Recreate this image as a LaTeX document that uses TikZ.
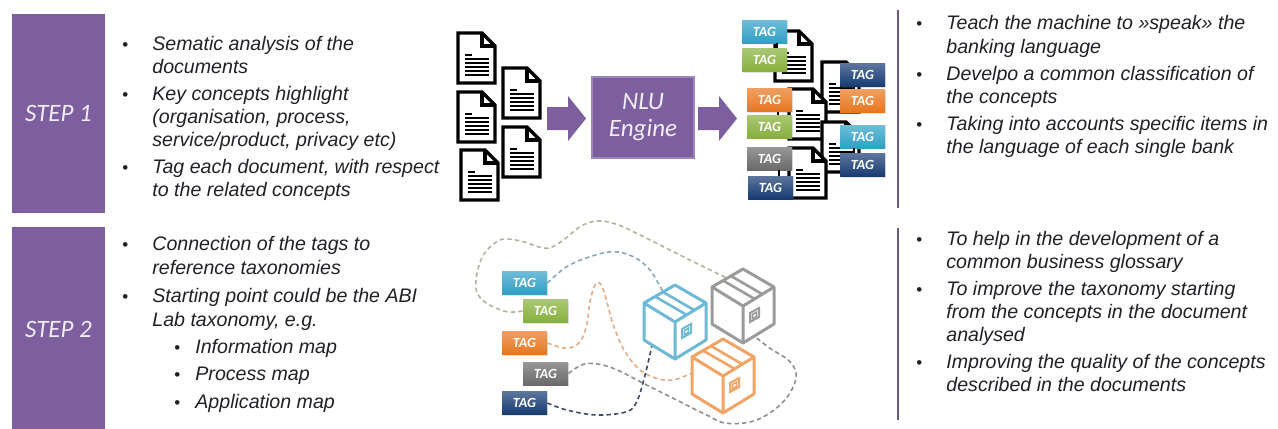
\documentclass[tikz,border=0pt]{standalone}
\usepackage{fontspec}
\setmainfont{Liberation Sans}
\newfontfamily\calib{Carlito}
\usetikzlibrary{shadows,calc}

\definecolor{stepviolet}{HTML}{7D5FA0}
\definecolor{steptext}{HTML}{F2EEF7}
\definecolor{rulecol}{HTML}{6A5A7E}
\definecolor{txtcol}{HTML}{202026}
\definecolor{tagcyan}{HTML}{30A0C6}
\definecolor{taggreen}{HTML}{86B03A}
\definecolor{tagorange}{HTML}{E8761E}
\definecolor{taggray}{HTML}{6A6A6A}
\definecolor{tagnavy}{HTML}{173A73}
\definecolor{boxcyan}{HTML}{6DB9D6}
\definecolor{boxgray}{HTML}{9B9B9B}
\definecolor{boxorange}{HTML}{F2A465}
\definecolor{dkhaki}{HTML}{B8B29A}
\definecolor{dsteel}{HTML}{86A9BA}
\definecolor{dorange}{HTML}{E6AB80}
\definecolor{dgray}{HTML}{8E8E8E}
\definecolor{dnavy}{HTML}{3E4A66}

\newcommand\itemline[4]{\node[txt] (#1) at (#2,#3) {#4};}
\newcommand\bulletat[3]{\node[bul] (#1) at (#2,#3) {\textbullet};}

\tikzset{
  txt/.style={font=\fontsize{9.8}{11.5}\selectfont\itshape, text=txtcol, inner sep=0pt, anchor=base west},
  bul/.style={font=\fontsize{8.5}{11.5}\selectfont\upshape, text=txtcol, inner sep=0pt, anchor=base west},
  stepbox/.style={fill=stepviolet, draw=white, line width=1pt, minimum width=47.5pt,
    drop shadow={opacity=0.18, shadow xshift=0.6pt, shadow yshift=-0.6pt},
    font=\calib\itshape\fontsize{12.5}{14}\selectfont, text=steptext},
  engine/.style={fill=stepviolet, draw=stepviolet!75!white, line width=0.6pt,
    minimum width=51pt, minimum height=40.5pt, align=center,
    font=\calib\itshape\fontsize{12.5}{13.5}\selectfont, text=steptext},
  tag/.style={top color=#1!70!white, bottom color=#1, draw=none,
    minimum width=22.5pt, minimum height=11.5pt, inner sep=0pt,
    drop shadow={opacity=0.22, shadow xshift=0.7pt, shadow yshift=-0.7pt},
    font=\calib\bfseries\itshape\fontsize{7}{7.5}\selectfont, text=white},
  pairlink/.style={black, line width=1.1pt},
  rulebar/.style={rulecol, line width=1pt},
  blockarrow/.style={fill=stepviolet, draw=none},
  trail/.style={dashed, dash pattern=on 2.2pt off 1.6pt, line width=0.8pt},
  pics/docicon/.style={code={
    \draw[line width=1.6pt, fill=white, line join=miter]
      (0,0) -- (24,0) -- (37,13) -- (37,50) -- (0,50) -- cycle;
    \draw[line width=1.6pt, line join=miter] (24,0) -- (24,13) -- (37,13);
    \draw[line width=1.1pt] (7,22) -- (14,22);
    \foreach \yy in {26,30,34,38,42} \draw[line width=1.1pt] (7,\yy) -- (31,\yy);
  }},
  pics/cube/.style={code={
    \draw[#1, line width=1.5pt, line join=round, fill=white]
      (0,0) -- (31,18) -- (31,55) -- (0,74) -- (-31,55) -- (-31,18) -- cycle;
    \draw[#1, line width=1.5pt, line join=round] (-31,18) -- (0,37) -- (31,18) (0,37) -- (0,74);
    \draw[#1, line width=1.3pt] (-12,7) -- (19,25) (-20,11.5) -- (11,29.5);
    \draw[#1, line width=1pt] (7,44) -- (16,39) -- (16,48) -- (7,53) -- cycle;
    \draw[#1, line width=0.8pt] (9.5,45.5) -- (13.5,43.2) -- (13.5,47.5) -- (9.5,49.8) -- cycle;
  }}
}

\begin{document}
\begin{tikzpicture}[x=0.5pt, y=-0.5pt]
\useasboundingbox (0,0) rectangle (1278,428);

% ---------- step labels ----------
\node[stepbox, minimum height=100.5pt] (step1) at (58.5,113.5) {STEP 1};
\node[stepbox, minimum height=103pt] (step2) at (58.5,329) {STEP 2};

% ---------- step 1, left column ----------
\bulletat{b1a}{122}{50}
\itemline{l1a}{152}{50}{Sematic analysis of the}
\itemline{l1b}{152}{73}{documents}
\bulletat{b1b}{122}{100}
\itemline{l1c}{152}{100}{Key concepts highlight}
\itemline{l1d}{152}{123}{(organisation, process,}
\itemline{l1e}{152}{146}{service/product, privacy etc)}
\bulletat{b1c}{122}{173}
\itemline{l1f}{152}{173}{Tag each document, with respect}
\itemline{l1g}{152}{196}{to the related concepts}

% ---------- step 1, right column ----------
\draw[rulebar] (898,10) -- (898,208);
\bulletat{r1a}{916}{29}
\itemline{m1a}{946}{29}{Teach the machine to »speak» the}
\itemline{m1b}{946}{53}{banking language}
\bulletat{r1b}{916}{80}
\itemline{m1c}{946}{80}{Develpo a common classification of}
\itemline{m1d}{946}{103}{the concepts}
\bulletat{r1c}{916}{130}
\itemline{m1e}{946}{130}{Taking into accounts specific items in}
\itemline{m1f}{946}{153}{the language of each single bank}

% ---------- step 2, left column ----------
\bulletat{b2a}{122}{250}
\itemline{l2a}{152}{250}{Connection of the tags to}
\itemline{l2b}{152}{274}{reference taxonomies}
\bulletat{b2b}{122}{302}
\itemline{l2c}{152}{302}{Starting point could be the ABI}
\itemline{l2d}{152}{326}{Lab taxonomy, e.g.}
\bulletat{b2c}{174}{353}
\itemline{l2e}{195}{353}{Information map}
\bulletat{b2d}{174}{380}
\itemline{l2f}{195}{380}{Process map}
\bulletat{b2e}{174}{408}
\itemline{l2g}{195}{408}{Application map}

% ---------- step 2, right column ----------
\draw[rulebar] (898,228) -- (898,420);
\bulletat{r2a}{916}{245}
\itemline{m2a}{946}{245}{To help in the development of a}
\itemline{m2b}{946}{268}{common business glossary}
\bulletat{r2b}{916}{295}
\itemline{m2c}{946}{295}{To improve the taxonomy starting}
\itemline{m2d}{946}{318}{from the concepts in the document}
\itemline{m2e}{946}{341}{analysed}
\bulletat{r2c}{916}{368}
\itemline{m2f}{946}{368}{Improving the quality of the concepts}
\itemline{m2g}{946}{391}{described in the documents}

% ---------- raw documents ----------
\pic at (458,33) {docicon};
\pic at (503,68) {docicon};
\pic at (458,92) {docicon};
\pic at (503,127) {docicon};
\pic at (461,150) {docicon};

% ---------- engine and arrows ----------
\node[engine] (nlu) at (643,117.5) {NLU\\Engine};
\fill[blockarrow] (547,107) -- (568,107) -- (568,96) -- (586,118.5) -- (568,141) -- (568,130) -- (547,130) -- cycle;
\fill[blockarrow] (698,107) -- (719,107) -- (719,96) -- (737,118.5) -- (719,141) -- (719,130) -- (698,130) -- cycle;

% ---------- tagged documents ----------
\pic at (775,31) {docicon};
\pic at (822,62) {docicon};
\pic at (789,89) {docicon};
\pic at (822,122) {docicon};
\pic at (789,148) {docicon};

\node[tag=tagcyan]   (tc1)  at (764.5,31.5) {TAG};
\node[tag=taggreen]  (tc2)  at (764.5,60)   {TAG};
\node[tag=tagnavy]   (tc3)  at (862.5,75)   {TAG};
\node[tag=tagorange] (tc4)  at (862.5,101)  {TAG};
\node[tag=tagorange] (tc5)  at (769.5,100)  {TAG};
\node[tag=taggreen]  (tc6)  at (769.5,126.5){TAG};
\node[tag=tagcyan]   (tc7)  at (862.5,136.5){TAG};
\node[tag=tagnavy]   (tc8)  at (862.5,165)  {TAG};
\node[tag=taggray]   (tc9)  at (769.5,158.5){TAG};
\node[tag=tagnavy]   (tc10) at (770.5,187.5){TAG};

\draw[pairlink] ($(tc1.south west)+(35,0)$) -- ($(tc2.north west)+(35,0)$);
\draw[pairlink] ($(tc5.south west)+(31,0)$) -- ($(tc6.north west)+(31,0)$);
\draw[pairlink] ($(tc9.south west)+(32,0)$) -- ($(tc10.north west)+(31,0)$);
\draw[pairlink] ($(tc3.south west)+(14,0)$) -- ($(tc4.north west)+(14,0)$);
\draw[pairlink] ($(tc7.south west)+(14,0)$) -- ($(tc8.north west)+(14,0)$);

% ---------- step 2: tags mapped to taxonomies ----------
\node[tag=tagcyan]   (s1) at (524.5,283) {TAG};
\node[tag=taggreen]  (s2) at (545.5,311) {TAG};
\node[tag=tagorange] (s3) at (524.5,343) {TAG};
\node[tag=taggray]   (s4) at (545.5,373.5) {TAG};
\node[tag=tagnavy]   (s5) at (524.5,403) {TAG};

\draw[trail, dkhaki] plot[smooth, tension=0.6] coordinates {
  (s2.west) (506.7,311.7) (486.7,303.3) (476.7,291.7) (476.7,275) (483.3,255)
  (496.7,241.7) (507,239) (523.3,241.7) (546.7,248.3) (563.3,240) (580,226.7)
  (596.7,221) (616.7,224.3) (640,235) (673.3,251.7) (706.7,268.3) (727,278)};
\draw[trail, dsteel] plot[smooth, tension=0.6] coordinates {
  (s1.east) (566.7,266.7) (590,256.7) (613.3,251.7) (633.3,256.7) (650,270) (663,292)};
\draw[trail, dorange] plot[smooth, tension=0.6] coordinates {
  (s3.east) (566.7,348.3) (580,341.7) (586.7,325) (590,301.7) (595,285) (600,283.3)
  (605,295) (613.3,325) (625,351.7) (640,370) (656.7,378.3) (673.3,380) (692,373)};
\draw[trail, dgray] plot[smooth, tension=0.6] coordinates {
  (s4.east) (578.3,366.7) (590,363.3) (613.3,368.3) (646.7,385) (680,401.7) (706.7,415)
  (726.7,423.3) (756.7,420) (783.3,401.7) (796,378.3) (790,361.7) (770,348.3) (755,336.7)};
\draw[trail, dnavy] plot[smooth, tension=0.6] coordinates {
  (s5.east) (566.7,410) (596.7,415) (626.7,411.7) (636.7,401.7) (643.3,381.7)
  (648.3,361.7) (652,345)};

\pic at (675,285) {cube=boxcyan};
\pic at (743,269) {cube=boxgray};
\pic at (723,339) {cube=boxorange};

\end{tikzpicture}
\end{document}
